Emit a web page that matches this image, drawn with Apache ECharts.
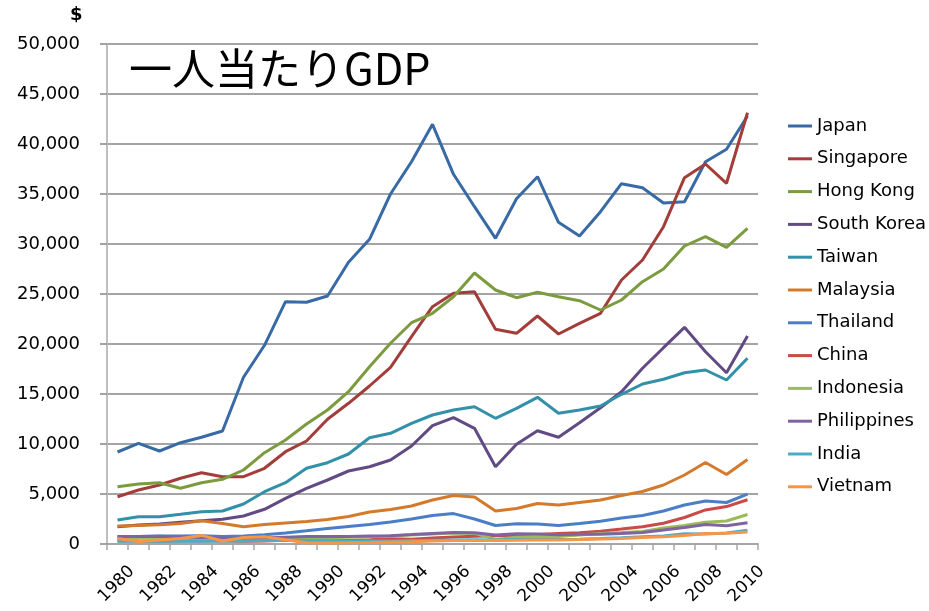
<!DOCTYPE html>
<html>
<head>
<meta charset="utf-8">
<script src="https://cdn.jsdelivr.net/npm/echarts@6/dist/echarts.min.js"></script>
<style>
html,body{margin:0;padding:0;background:#fff;}
#chart{width:929px;height:611px;}
</style>
</head>
<body>
<div id="chart"></div>
<script>
var years = ['1980','1981','1982','1983','1984','1985','1986','1987','1988','1989','1990','1991','1992','1993','1994','1995','1996','1997','1998','1999','2000','2001','2002','2003','2004','2005','2006','2007','2008','2009','2010'];
var seriesNames = ['Japan','Singapore','Hong Kong','South Korea','Taiwan','Malaysia','Thailand','China','Indonesia','Philippines','India','Vietnam'];
var japan = [9200,10070,9300,10130,10670,11300,16670,19870,24230,24170,24800,28170,30470,35000,38230,41970,36970,33730,30570,34530,36730,32170,30800,33230,36030,35630,34100,34230,38230,39470,42800];
var singapore = [4730,5400,5900,6570,7130,6730,6730,7570,9230,10300,12470,14070,15800,17670,20730,23730,25070,25230,21470,21070,22800,21000,22070,23070,26400,28400,31730,36630,38000,36070,43130];
var hongKong = [5730,6000,6130,5570,6130,6470,7400,9130,10400,12000,13400,15230,17730,20070,22130,23070,24730,27100,25400,24630,25170,24730,24330,23400,24400,26230,27500,29800,30730,29670,31570];
var southKorea = [1730,1900,2000,2170,2330,2470,2800,3470,4570,5570,6400,7300,7730,8400,9800,11830,12630,11570,7730,9970,11330,10670,12130,13630,15230,17570,19630,21670,19230,17130,20800];
var taiwan = [2400,2730,2730,2970,3230,3300,4000,5230,6130,7570,8130,9000,10630,11070,12070,12900,13400,13730,12570,13570,14670,13070,13400,13800,14970,16000,16470,17130,17400,16400,18570];
var malaysia = [1800,1850,1920,2050,2330,2050,1730,1950,2100,2250,2450,2750,3200,3450,3800,4400,4850,4700,3300,3550,4050,3900,4150,4400,4850,5250,5900,6900,8150,6950,8450];
var thailand = [720,760,790,810,820,760,800,920,1110,1320,1540,1750,1960,2200,2500,2850,3040,2500,1850,2030,2000,1860,2040,2280,2600,2850,3300,3900,4300,4150,4990];
var china = [310,290,280,300,300,290,280,300,370,400,340,350,420,520,470,610,700,780,820,860,950,1040,1130,1270,1490,1730,2070,2650,3410,3740,4430];
var indonesia = [540,600,600,520,530,520,480,440,490,540,620,670,720,810,890,1000,1100,1060,460,670,780,750,900,1060,1150,1260,1590,1860,2170,2300,2950];
var philippines = [750,760,770,700,650,620,580,620,680,740,740,740,810,830,940,1060,1160,1120,890,1020,990,920,970,980,1040,1160,1390,1650,1950,1830,2130];
var india = [270,280,280,290,280,300,310,340,350,340,370,300,320,300,350,380,400,420,410,440,450,460,480,550,630,720,800,1020,990,1100,1370];
var vietnam = [560,250,400,560,860,300,650,730,420,120,100,120,150,190,230,290,340,360,360,370,400,410,440,490,560,640,730,840,1050,1070,1200];
var xTickLabels = ['1980','1982','1984','1986','1988','1990','1992','1994','1996','1998','2000','2002','2004','2006','2008','2010'];
var yTicks = [0,5000,10000,15000,20000,25000,30000,35000,40000,45000,50000];

var allData = [japan,singapore,hongKong,southKorea,taiwan,malaysia,thailand,china,indonesia,philippines,india,vietnam];
var colors = ['#386AA6','#A23D3A','#7C9B3E','#624A84','#3291A9','#D37A2B','#4A7EC6','#C94A47','#9BBB59','#8064A2','#4BACC6','#F79646'];

var chart = echarts.init(document.getElementById('chart'));
var series = seriesNames.map(function(n,i){
  return {
    name:n, type:'line', data:allData[i], symbol:'none', smooth:false,
    lineStyle:{width:3,color:colors[i]}, itemStyle:{color:colors[i]},
    emphasis:{disabled:true}
  };
});
chart.setOption({
  animation:false,
  backgroundColor:'#ffffff',
  color:colors,
  title:{
    text:'一人当たりGDP', left:124, top:42,
    textStyle:{fontFamily:'"Noto Sans CJK JP"',fontSize:43,fontWeight:'normal',color:'#000'}
  },
  graphic:[{type:'text',left:70,top:6,style:{text:'$',font:'bold 18px "DejaVu Sans"',fill:'#000'}}],
  legend:{
    orient:'vertical', left:783, top:111,
    itemWidth:24, itemHeight:3, itemGap:12.8, icon:'rect',
    textStyle:{fontFamily:'"DejaVu Sans"',fontSize:18,color:'#000',lineHeight:20},
    data:seriesNames
  },
  grid:{left:107,right:171,top:44,bottom:67,containLabel:false},
  xAxis:{
    type:'category', data:years, boundaryGap:true,
    axisLine:{lineStyle:{color:'#a6a6a6',width:2}},
    axisTick:{show:true,interval:0,length:6,lineStyle:{color:'#a6a6a6',width:1.5}},
    axisLabel:{show:false}
  },
  yAxis:{
    type:'value', min:0, max:50000, interval:5000,
    axisLine:{show:true,lineStyle:{color:'#bfbfbf',width:2}},
    axisTick:{show:true,length:7,lineStyle:{color:'#868686',width:1.5}},
    splitLine:{show:true,lineStyle:{color:'#868686',width:1.5}},
    axisLabel:{margin:27,fontFamily:'"DejaVu Sans"',fontSize:18,color:'#000',
      formatter:function(v){return v.toString().replace(/\B(?=(\d{3})+(?!\d))/g, ',');}}
  },
  series:series
});

// rotated category labels placed through the axis scale
var y0 = chart.convertToPixel({yAxisIndex:0}, 0);
var labelEls = xTickLabels.map(function(t){
  var cx = chart.convertToPixel({xAxisIndex:0}, t);
  return {
    type:'text', x:cx - 1, y:y0 + 40, rotation:Math.PI/4, silent:true,
    style:{text:t, x:0, y:0, align:'center', verticalAlign:'middle',
      font:'17px "DejaVu Sans"', fill:'#000'}
  };
});
chart.setOption({graphic:[{type:'text',left:70,top:6,style:{text:'$',font:'bold 18px "DejaVu Sans"',fill:'#000'}}].concat(labelEls)});
</script>
</body>
</html>
